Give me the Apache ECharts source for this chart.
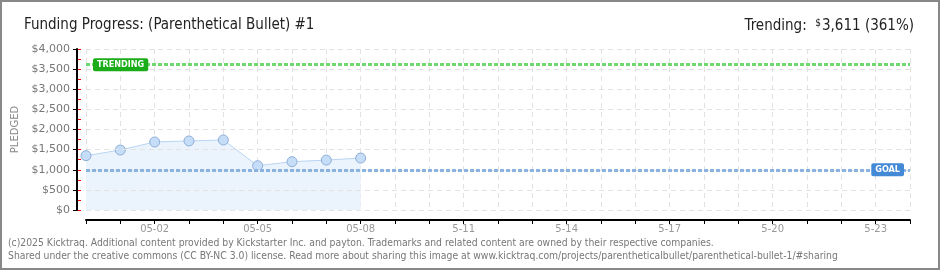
<!DOCTYPE html>
<html><head><meta charset="utf-8">
<script src="https://cdn.jsdelivr.net/npm/echarts@6/dist/echarts.min.js"></script>
<style>html,body{margin:0;padding:0;background:#fff}#c{width:940px;height:270px}</style>
</head><body><div id="c"></div>
<script>
const categories = ['04-30','05-01','05-02','05-03','05-04','05-05','05-06','05-07','05-08','05-09','05-10','05-11','05-12','05-13','05-14','05-15','05-16','05-17','05-18','05-19','05-20','05-21','05-22','05-23','05-24'];
const tickLabels = ['','','05-02','','','05-05','','','05-08','','','5-11','','','5-14','','','5-17','','','5-20','','','5-23',''];
const pledged = [1350,1490,1690,1715,1740,1100,1200,1240,1290];
const goal = 1000;
const trending = 3611;
const yTicks = [0,500,1000,1500,2000,2500,3000,3500,4000];

const fmtMoney = v => '$' + v.toLocaleString('en-US');
const chart = echarts.init(document.getElementById('c'), null, {renderer:'canvas'});
const titleFont = 'Liberation Sans Narrow, DejaVu Sans Condensed, sans-serif';
const tagStyle = {color:'#fff', borderRadius:2, padding:[2,4,2,4], fontSize:9, lineHeight:9, fontWeight:'bold', fontFamily:'DejaVu Sans Condensed, DejaVu Sans, sans-serif'};
chart.setOption({
  animation:false,
  backgroundColor:'#fff',
  title:[{
    text:'Funding Progress: (Parenthetical Bullet) #1',
    left:19, top:13,
    textStyle:{fontFamily:titleFont, fontSize:15, fontWeight:'normal', color:'#222'}
  },{
    text:'{a|Trending:  }{s|$}{a|3,611 (361%)}',
    right:21, top:13,
    textStyle:{fontWeight:'normal', rich:{
      a:{fontFamily:titleFont, fontSize:15, fontWeight:'normal', color:'#222'},
      s:{fontFamily:titleFont, fontSize:10, fontWeight:'normal', color:'#222', verticalAlign:'top', padding:[0,1,6,0]}
    }}
  }],
  graphic:[
    {type:'rect', shape:{x:1,y:1,width:938,height:268}, style:{fill:null, stroke:'#888', lineWidth:2}, silent:true, z:100},
    {type:'text', left:8, top:237, style:{text:'(c)2025 Kicktraq. Additional content provided by Kickstarter Inc. and payton. Trademarks and related content are owned by their respective companies.\nShared under the creative commons (CC BY-NC 3.0) license. Read more about sharing this image at www.kicktraq.com/projects/parentheticalbullet/parenthetical-bullet-1/#sharing', font:'10.3px "Liberation Sans Narrow", "DejaVu Sans Condensed", sans-serif', fill:'#777', lineHeight:13}}
  ],
  grid:{left:86, right:30, top:49, bottom:60, containLabel:false},
  xAxis:{
    type:'category', data:categories, boundaryGap:false, offset:10,
    axisLine:{onZero:false, lineStyle:{color:'#000', width:2}},
    axisTick:{show:true, interval:0, length:4, lineStyle:{color:'#000', width:1}},
    axisLabel:{interval:0, formatter:(v,i)=>tickLabels[i], color:'#999', fontSize:10, fontFamily:'DejaVu Sans, sans-serif', margin:4},
    splitLine:{show:true, interval:0, lineStyle:{color:'#e2e2e2', type:[5,4], width:1}}
  },
  yAxis:[{
    type:'value', min:0, max:4000, interval:500, offset:9, position:'left', z:5,
    name:'PLEDGED', nameLocation:'middle', nameGap:57, nameRotate:90,
    nameTextStyle:{color:'#888', fontSize:10, fontFamily:'DejaVu Sans, sans-serif', letterSpacing:2},
    axisLine:{show:true, onZero:false, lineStyle:{color:'#000', width:2}},
    axisTick:{show:true, inside:false, length:4, lineStyle:{color:'#000', width:1}},
    axisLabel:{formatter:v=>yTicks.includes(v)?fmtMoney(v):'', color:'#777', fontSize:11, fontFamily:'DejaVu Sans, sans-serif', margin:7},
    splitLine:{show:true, lineStyle:{color:'#e2e2e2', type:[5,4], width:1}}
  },{
    type:'value', min:0, max:4000, interval:250, offset:9, position:'left', z:4,
    axisLine:{show:false, onZero:false},
    axisTick:{show:true, inside:true, length:4, lineStyle:{color:'#ff0000', width:1}},
    axisLabel:{show:false},
    splitLine:{show:false}
  }],
  series:[{
    type:'line', data:pledged, symbol:'circle', symbolSize:10, yAxisIndex:0,
    lineStyle:{color:'#b9d5f3', width:1},
    itemStyle:{color:'#c6ddf8', borderColor:'#8eaed6', borderWidth:1},
    areaStyle:{color:'#ebf3fd', opacity:1},
    z:3,
    markLine:{
      silent:true, symbol:'none',
      data:[
        {yAxis:trending, lineStyle:{color:'#6fd86f', width:3, type:[4,2]},
         label:Object.assign({show:true, position:'insideStart', distance:[7,0], formatter:'TRENDING', backgroundColor:'#1aad19'}, tagStyle)},
        {yAxis:goal, lineStyle:{color:'#8ab3e2', width:3, type:[4,2]},
         label:Object.assign({show:true, position:'insideEnd', distance:[6,0], formatter:'GOAL', backgroundColor:'#4489d6'}, tagStyle)}
      ]
    }
  }]
});
</script></body></html>
